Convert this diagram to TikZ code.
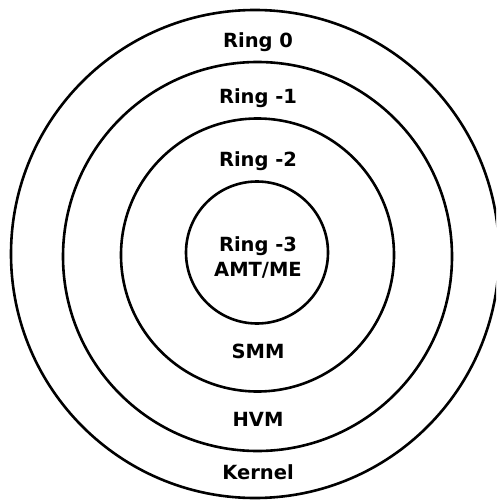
\documentclass[tikz,border=0pt]{standalone}
\usepackage{fontspec}
\setmainfont{DejaVu Sans}
\usetikzlibrary{positioning}

\begin{document}
\begin{tikzpicture}[x=1pt,y=-1pt,
        ringline/.style={line width=2.6pt},
        ringlabel/.style={font=\fontsize{19.5}{23}\selectfont\bfseries, inner sep=0pt, anchor=base}]
        \useasboundingbox (0,0) rectangle (496,500);
        \clip (0,0) rectangle (496,500);
        \draw[ringline] (255,254) circle[radius=244pt];
        \draw[ringline] (257.5,256.5) circle[radius=194.5pt];
        \draw[ringline] (257.5,255) circle[radius=136.5pt];
        \draw[ringline] (257,252.5) circle[radius=71pt];
        \node[ringlabel] (ring0) at (258,47.7) {Ring 0};
        \node[ringlabel] (ring1) at (258,103.3) {Ring -1};
        \node[ringlabel] (ring2) at (258,166) {Ring -2};
        \node[ringlabel] (ring3) at (258,251.7) {Ring -3};
        \node[ringlabel] (amt) at (258,276.7) {AMT/ME};
        \node[ringlabel] (smm) at (258,358.3) {SMM};
        \node[ringlabel] (hvm) at (258,426.7) {HVM};
        \node[ringlabel] (kernel) at (258,479.3) {Kernel};
\end{tikzpicture}
\end{document}
